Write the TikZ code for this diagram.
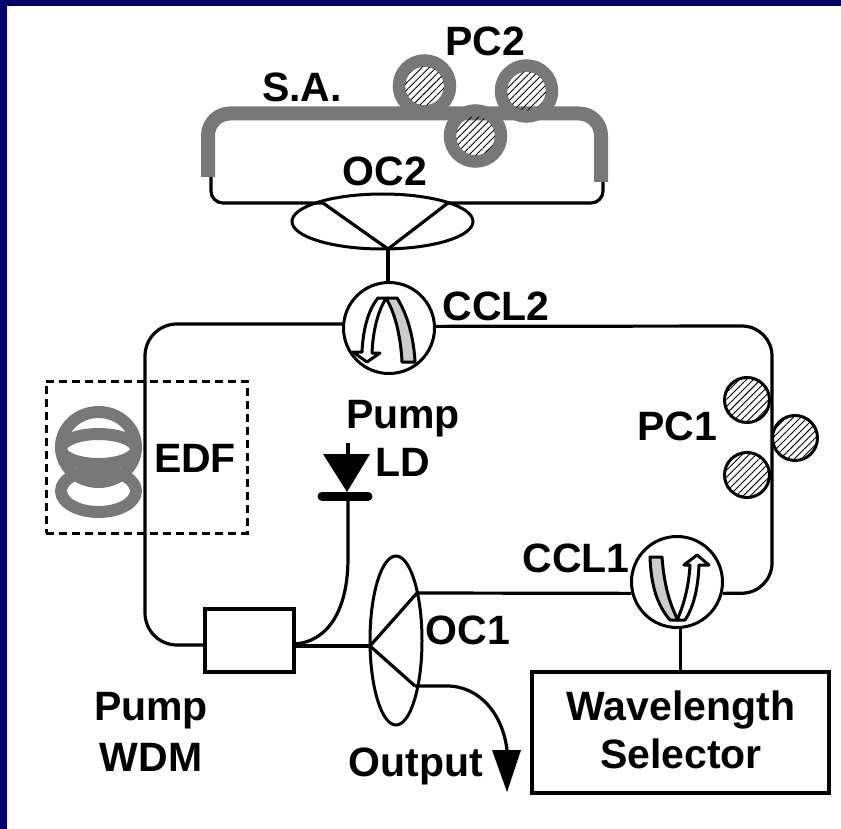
\documentclass[tikz,border=0pt]{standalone}
\usepackage{fontspec}
\setmainfont{Liberation Sans}
\usetikzlibrary{shapes.geometric,patterns.meta}
\definecolor{slidenavy}{HTML}{000066}
\definecolor{fibergray}{gray}{0.47}
\definecolor{bandgray}{gray}{0.8}
\tikzset{
  fiber/.style={draw, line width=3.2pt},
  safiber/.style={draw=fibergray, line width=14pt},
  ringfiber/.style={draw=fibergray, line width=12.5pt},
  coupler/.style={draw, ellipse, line width=3pt, inner sep=0pt},
  circulator/.style={draw, circle, line width=3pt, inner sep=0pt, minimum size=91pt},
  devbox/.style={draw, rectangle, line width=3.2pt, inner sep=0pt},
  paddle/.style={draw, circle, line width=3pt, inner sep=0pt, minimum size=45pt,
    pattern={Lines[angle=45,distance=5pt,line width=0.9pt]}},
  ringdisc/.style={circle, inner sep=0pt, minimum size=39pt,
    pattern={Lines[angle=45,distance=5pt,line width=0.9pt]}},
  tag/.style={font=\fontsize{41}{48}\selectfont\bfseries, align=center, inner sep=0pt},
}
\begin{document}
\begin{tikzpicture}[x=1pt,y=-1pt]
\useasboundingbox (0,0) rectangle (841,829);
\fill[slidenavy] (0,0) rectangle (841,6);
\fill[slidenavy] (0,0) rectangle (7,829);
% saturable absorber loop
\draw[safiber, rounded corners=22pt] (208,177) -- (208,113.5) -- (601,113.5) -- (601,182);
\draw[ringfiber] (424.5,86) circle (25.5);
\draw[ringfiber] (475.5,136) circle (25.5);
\draw[ringfiber] (526.5,91) circle (25.5);
\node[ringdisc] (pc2a) at (424.5,86) {};
\node[ringdisc] (pc2b) at (475.5,136) {};
\node[ringdisc] (pc2c) at (526.5,91) {};
% couplers and circulators
\node[coupler, minimum width=181pt, minimum height=55pt] (oc2) at (382.5,221.5) {};
\node[coupler, minimum width=52pt, minimum height=169pt] (oc1) at (396,640.5) {};
\node[circulator] (ccl2) at (389,328) {};
\node[circulator] (ccl1) at (677,582) {};
\node[devbox, minimum width=89pt, minimum height=63pt] (wdm) at (249.5,640.5) {};
\node[devbox, minimum width=297pt, minimum height=121pt] (wls) at (680.5,732.5) {};
\coordinate (oc2v) at (388,249);
\coordinate (oc2a) at (323,203);
\coordinate (oc2b) at (448,203);
\coordinate (oc1v) at (370,646);
\coordinate (oc1a) at (417,593);
\coordinate (oc1b) at (415,686);
\coordinate (saL) at (211,177);
\coordinate (saR) at (603,182);
\coordinate (wdmL) at (205,645);
\coordinate (wdmR) at (294,646);
\coordinate (wdmP) at (294,644);
\coordinate (ldbar) at (348,496);
\coordinate (ldtop) at (348,443);
\coordinate (outtop) at (507,750);
% fibers
\draw[fiber, rounded corners=12pt] (saL) -- (211,203) -- (oc2a);
\draw[fiber, rounded corners=12pt] (saR) -- (603,203) -- (oc2b);
\draw[fiber] (oc2a) -- (oc2v) -- (oc2b);
\draw[fiber] (oc2v) -- (ccl2.north -| oc2v);
\draw[fiber, rounded corners=32pt] (ccl2.175) -- (145,324) -- (145,645) -- (wdmL);
\draw[fiber, rounded corners=30pt] (ccl2.2) -- (772,326) -- (772,593) -- (ccl1.346);
\draw[fiber] (ccl1.194) -- (oc1a);
\draw[fiber] (oc1a) -- (oc1v) -- (oc1b);
\draw[fiber] (wdmR) -- (oc1v);
\draw[fiber] (ldbar) -- (348,558) .. controls (348,610) and (328,642) .. (wdmP);
\draw[fiber] (oc1b) -- (447,686) .. controls (480,686) and (503,715) .. (outtop);
\draw[fiber] (ccl1.south -| wls) -- (wls.north);
% pump diode
\draw[fiber] (ldtop) -- (348,456);
\fill (323,454) -- (370,454) -- (347,492) -- cycle;
\draw[line width=9pt, line cap=round] (322,496) -- (ldbar) -- (368,496);
% output arrow
\fill (492,750) -- (521,750) -- (507,792) -- cycle;
% circulator arrows
\draw[fill=bandgray, line width=3pt, line join=round] (388,298) -- (397,298) .. controls (408,315) and (414,340) .. (415,362) -- (402,362) .. controls (401,340) and (396,315) .. (387,300) -- cycle;
\draw[fill=white, line width=3pt, line join=round] (388,298) -- (378,298) .. controls (368,310) and (363,330) .. (362,352) -- (353,352) -- (367,362) -- (380,353) -- (372,353) .. controls (373,330) and (378,312) .. (385,300) -- cycle;
\draw[fill=bandgray, line width=3pt, line join=round] (650,557) -- (662,557) .. controls (664,585) and (670,605) .. (678,620) -- (670,620) .. controls (657,605) and (651,585) .. (650,557) -- cycle;
\draw[fill=white, line width=3pt, line join=round] (677,620) .. controls (684,605) and (689,585) .. (690,565) -- (684,565) -- (697,555) -- (709,565) -- (699,565) .. controls (698,590) and (693,608) .. (685,620) -- cycle;
% polarization controller
\node[paddle] (pc1a) at (747,400) {};
\node[paddle] (pc1b) at (795,438) {};
\node[paddle] (pc1c) at (747,475) {};
% erbium fiber
\draw[draw=fibergray, line width=12pt] (98.5,491) ellipse (37.5 and 21);
\draw[draw=fibergray, line width=12pt] (98.5,447) ellipse (37.5 and 35);
\draw[draw=fibergray, line width=12pt] (98.5,449) ellipse (37.5 and 15);
\node[draw, dash pattern=on 8pt off 5pt, line width=3pt, inner sep=0pt, minimum width=201pt, minimum height=152pt] (edfbox) at (146.5,457) {};
% labels
\node[tag] (pc2) at (485,41) {PC2};
\node[tag] (sa) at (302,87) {S.A.};
\node[tag] (oc2t) at (385,171) {OC2};
\node[tag] (ccl2t) at (496,306) {CCL2};
\node[tag] (pumpld) at (403,438) {Pump\\LD};
\node[tag] (edf) at (195,458) {EDF};
\node[tag] (pc1) at (677,426) {PC1};
\node[tag] (ccl1t) at (576,558) {CCL1};
\node[tag] (oc1t) at (468,630) {OC1};
\node[tag] (pumpwdm) at (151,732) {Pump\\[3pt]WDM};
\node[tag] (output) at (416,766) {Output};
\node[tag] (wlst) at (681,730) {Wavelength\\Selector};
\end{tikzpicture}
\end{document}
